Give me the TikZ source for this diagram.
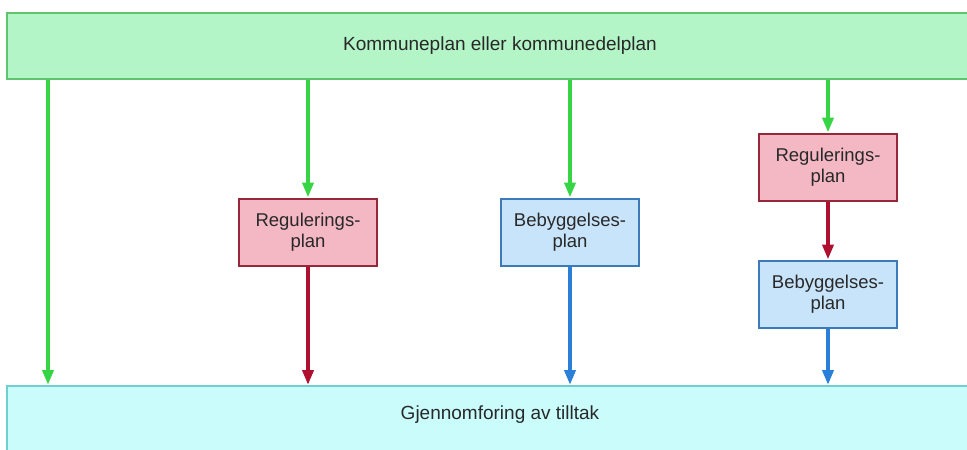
\documentclass[tikz,border=0pt]{standalone}
\usepackage{fontspec}
\setmainfont{Liberation Sans}
\usepackage{tikz}
\usetikzlibrary{positioning,arrows.meta}
\definecolor{kommfill}{RGB}{180, 245, 200}
\definecolor{kommdraw}{RGB}{95, 196, 110}
\definecolor{gjenfill}{RGB}{202, 252, 252}
\definecolor{gjendraw}{RGB}{110, 208, 208}
\definecolor{regfill}{RGB}{244, 184, 196}
\definecolor{regdraw}{RGB}{150, 40, 60}
\definecolor{bebfill}{RGB}{200, 228, 250}
\definecolor{bebdraw}{RGB}{60, 122, 184}
\definecolor{greenarrow}{RGB}{55, 212, 70}
\definecolor{redarrow}{RGB}{176, 16, 48}
\definecolor{bluearrow}{RGB}{42, 128, 216}
\definecolor{textdark}{RGB}{40, 40, 40}

\begin{document}
\begin{tikzpicture}[
    x=1pt, y=-1pt,
    barnode/.style={rectangle, draw, line width=2pt, minimum width=986pt, align=center, text=textdark, font=\fontsize{19}{21}\selectfont},
    plannode/.style={rectangle, draw, line width=2pt, minimum width=138pt, minimum height=67pt, align=center, text=textdark, font=\fontsize{18.5}{21}\selectfont},
    flow/.style={line width=4pt, -{Triangle[length=15pt, width=11pt]}}
]
    \useasboundingbox (0,0) rectangle (967,450);

    % Bars
    \node[barnode, fill=kommfill, draw=kommdraw, minimum height=66pt] (komm) at (500, 46) {Kommuneplan eller kommunedelplan};
    \node[barnode, fill=gjenfill, draw=gjendraw, anchor=north, inner ysep=0pt, text height=33pt, text depth=40pt] (gjen) at (500, 385) {Gjennomforing av tilltak};

    % Plans
    \node[plannode, fill=regfill, draw=regdraw] (reg1) at (308, 232) {Regulerings-\\plan};
    \node[plannode, fill=bebfill, draw=bebdraw] (beb1) at (570, 232) {Bebyggelses-\\plan};
    \node[plannode, fill=regfill, draw=regdraw] (reg2) at (828, 167) {Regulerings-\\plan};
    \node[plannode, fill=bebfill, draw=bebdraw] (beb2) at (828, 294) {Bebyggelses-\\plan};
    \coordinate (direct) at (48, 0);

    % Arrows
    \draw[flow, greenarrow] (komm.south -| direct) -- (gjen.north -| direct);
    \draw[flow, greenarrow] (komm.south -| reg1.north) -- (reg1.north);
    \draw[flow, redarrow] (reg1.south) -- (reg1.south |- gjen.north);
    \draw[flow, greenarrow] (komm.south -| beb1.north) -- (beb1.north);
    \draw[flow, bluearrow] (beb1.south) -- (beb1.south |- gjen.north);
    \draw[flow, greenarrow] (komm.south -| reg2.north) -- (reg2.north);
    \draw[flow, redarrow] (reg2) -- (beb2);
    \draw[flow, bluearrow] (beb2.south) -- (beb2.south |- gjen.north);
\end{tikzpicture}
\end{document}
